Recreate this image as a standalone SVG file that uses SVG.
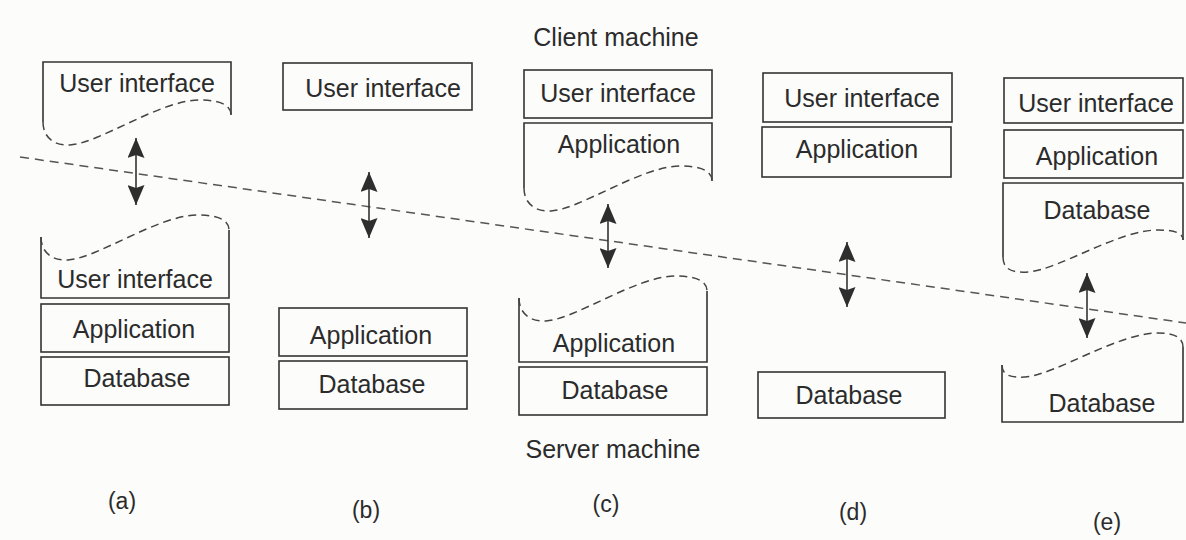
<svg xmlns="http://www.w3.org/2000/svg" width="1186" height="540" viewBox="0 0 1186 540">
  <style>
    .bx { fill: none; stroke: #333; stroke-width: 1.6; }
    .tear { fill: none; stroke: #444; stroke-width: 1.5; stroke-dasharray: 8 5; }
    .div { fill: none; stroke: #555; stroke-width: 1.5; stroke-dasharray: 9 6; }
    .t { font-family: "Liberation Sans", Arial, sans-serif; font-size: 25px; fill: #2b2b2b; text-anchor: middle; }
    .cap { font-family: "Liberation Sans", Arial, sans-serif; font-size: 25px; fill: #2b2b2b; text-anchor: middle; }
    .lab { font-family: "Liberation Sans", Arial, sans-serif; font-size: 23px; fill: #2b2b2b; text-anchor: middle; }
    .arr { stroke: #333; stroke-width: 1.6; fill: none; marker-start: url(#ah); marker-end: url(#ah); }
  </style>
  <defs>
    <marker id="ah" viewBox="0 0 10 10" refX="10" refY="5" markerUnits="userSpaceOnUse" markerWidth="20" markerHeight="17" preserveAspectRatio="none" orient="auto-start-reverse">
      <path d="M0,0 L10,5 L0,10 L1.5,5 z" fill="#2e2e2e"/>
    </marker>
  </defs>
  <rect x="0" y="0" width="1186" height="540" fill="#fcfcfb"/>

  <text class="cap" x="616" y="46">Client machine</text>
  <text class="cap" x="613" y="458">Server machine</text>

  <g id="divider">
    <path class="div" d="M20,157 L1186,323"/>
  </g>

  <!-- (a) -->
  <g id="a-client-ui">
    <path class="bx" d="M43,122 V62 H231 V115"/>
    <path class="tear" d="M43,122 C43,138 55,146 70,145 C100,143 160,100 200,100 C220,100 231,105 231,115"/>
    <text class="t" x="137" y="92">User interface</text>
  </g>
  <g id="a-server-ui">
    <path class="bx" d="M41,237 V298 H229 V230"/>
    <path class="tear" d="M41,237 C41,253 53,261 68,260 C98,258 158,215 198,215 C218,215 229,220 229,230"/>
    <text class="t" x="135" y="288">User interface</text>
  </g>
  <g id="a-server-app">
    <rect class="bx" x="41" y="304" width="188" height="48"/>
    <text class="t" x="134" y="338">Application</text>
  </g>
  <g id="a-server-db">
    <rect class="bx" x="41" y="357" width="188" height="48"/>
    <text class="t" x="137" y="387">Database</text>
  </g>

  <!-- (b) -->
  <g id="b-client-ui">
    <rect class="bx" x="283" y="63" width="189" height="47"/>
    <text class="t" x="383" y="97">User interface</text>
  </g>
  <g id="b-server-app">
    <rect class="bx" x="279" y="308" width="188" height="48"/>
    <text class="t" x="371" y="344">Application</text>
  </g>
  <g id="b-server-db">
    <rect class="bx" x="279" y="361" width="188" height="48"/>
    <text class="t" x="372" y="393">Database</text>
  </g>

  <!-- (c) -->
  <g id="c-client-ui">
    <rect class="bx" x="524" y="70" width="188" height="48"/>
    <text class="t" x="618" y="102">User interface</text>
  </g>
  <g id="c-client-app">
    <path class="bx" d="M524,188 V123 H712 V181"/>
    <path class="tear" d="M524,188 C524,204 536,212 551,211 C581,209 641,166 681,166 C701,166 712,171 712,181"/>
    <text class="t" x="619" y="153">Application</text>
  </g>
  <g id="c-server-app">
    <path class="bx" d="M519,298 V362 H707 V291"/>
    <path class="tear" d="M519,298 C519,314 531,322 546,321 C576,319 636,276 676,276 C696,276 707,281 707,291"/>
    <text class="t" x="614" y="352">Application</text>
  </g>
  <g id="c-server-db">
    <rect class="bx" x="519" y="367" width="188" height="48"/>
    <text class="t" x="615" y="399">Database</text>
  </g>

  <!-- (d) -->
  <g id="d-client-ui">
    <rect class="bx" x="763" y="73" width="189" height="49"/>
    <text class="t" x="862" y="107">User interface</text>
  </g>
  <g id="d-client-app">
    <rect class="bx" x="762" y="127" width="189" height="50"/>
    <text class="t" x="857" y="158">Application</text>
  </g>
  <g id="d-server-db">
    <rect class="bx" x="758" y="372" width="187" height="46"/>
    <text class="t" x="849" y="404">Database</text>
  </g>

  <!-- (e) -->
  <g id="e-client-ui">
    <rect class="bx" x="1004" y="78" width="179" height="45"/>
    <text class="t" x="1096" y="112">User interface</text>
  </g>
  <g id="e-client-app">
    <rect class="bx" x="1004" y="130" width="179" height="48"/>
    <text class="t" x="1097" y="165">Application</text>
  </g>
  <g id="e-client-db">
    <path class="bx" d="M1003,257 V183 H1183 V240"/>
    <path class="tear" d="M1003,257 C1003,270 1013,273 1028,272 C1058,270 1118,230 1158,230 C1175,230 1183,233 1183,240"/>
    <text class="t" x="1097" y="219">Database</text>
  </g>
  <g id="e-server-db">
    <path class="bx" d="M1002,365 V422 H1183 V347"/>
    <path class="tear" d="M1002,365 C1002,375 1010,378 1025,377 C1055,375 1118,333 1158,333 C1175,333 1183,338 1183,347"/>
    <text class="t" x="1102" y="412">Database</text>
  </g>

  <g id="connectors">
    <path class="arr" d="M136,138 V205"/>
    <path class="arr" d="M369,172 V238"/>
    <path class="arr" d="M608,204 V268"/>
    <path class="arr" d="M847,242 V307"/>
    <path class="arr" d="M1087,273 V338"/>
  </g>

  <g id="labels">
    <text class="lab" x="122" y="509">(a)</text>
    <text class="lab" x="366" y="518">(b)</text>
    <text class="lab" x="606" y="512">(c)</text>
    <text class="lab" x="853" y="520">(d)</text>
    <text class="lab" x="1107" y="530">(e)</text>
  </g>
</svg>
